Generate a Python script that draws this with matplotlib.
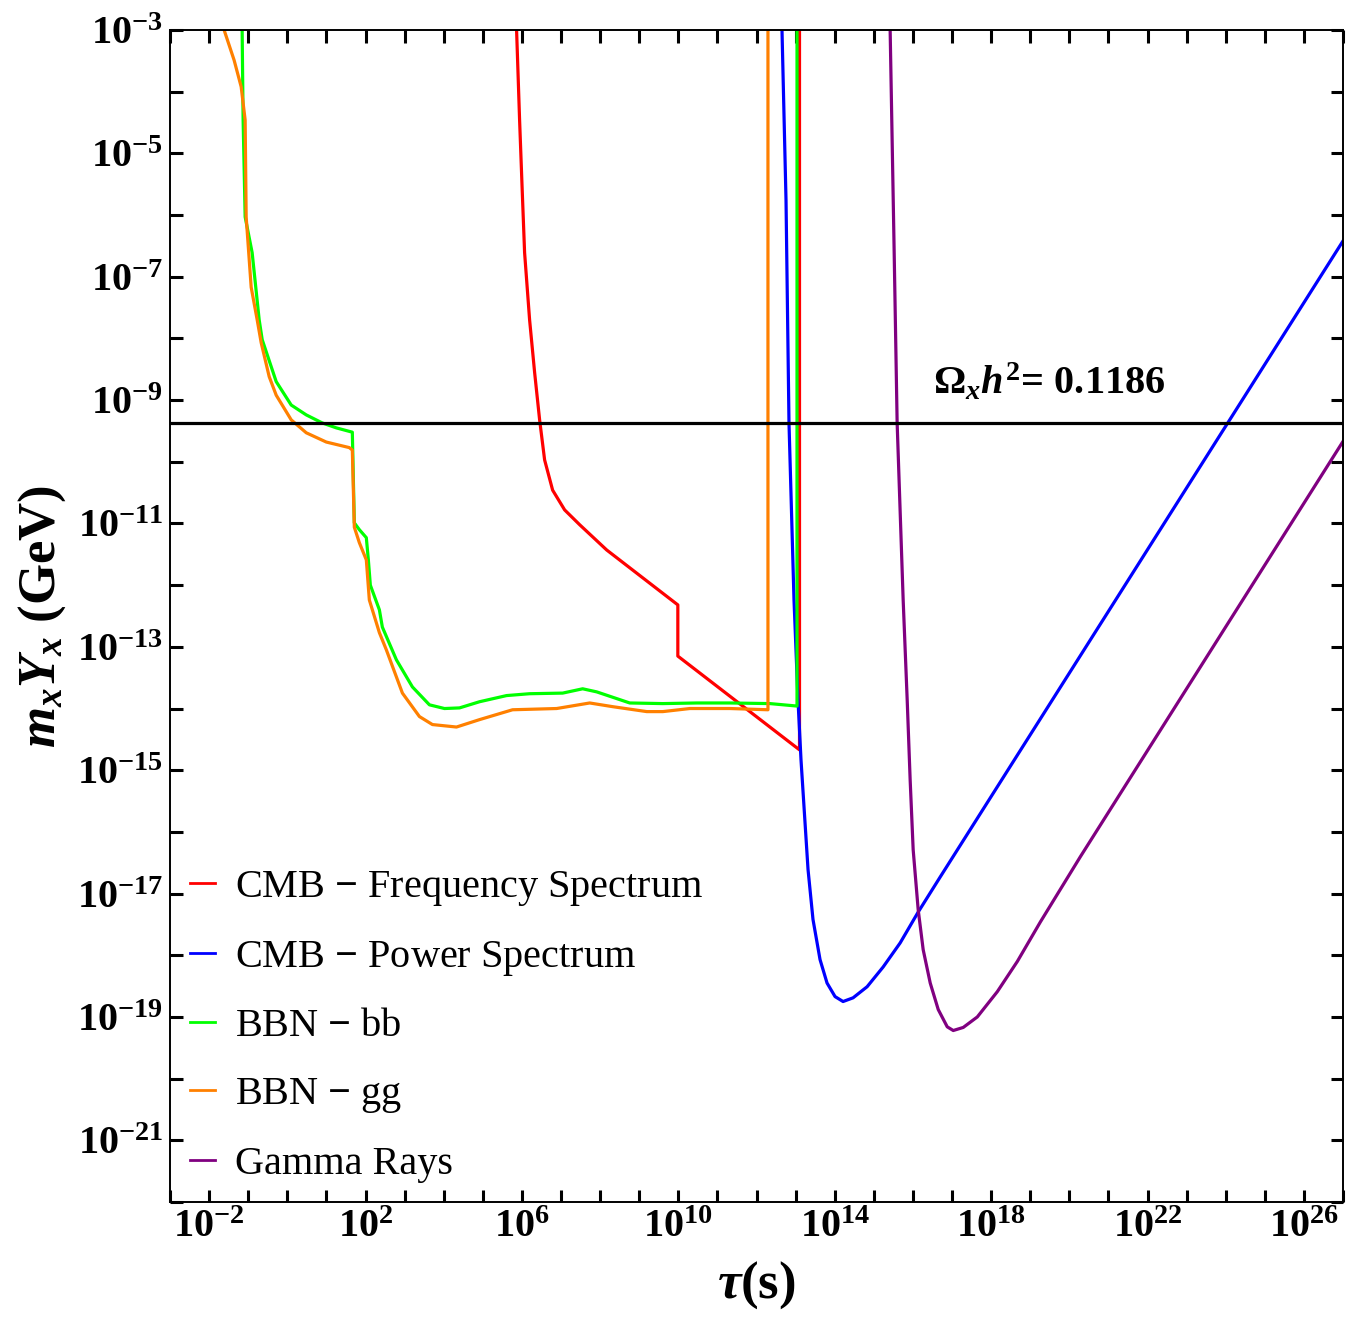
import numpy as np
import matplotlib
matplotlib.use('Agg')
import matplotlib.pyplot as plt

plt.rcParams['font.family'] = 'Liberation Serif'
plt.rcParams['mathtext.fontset'] = 'custom'
plt.rcParams['mathtext.rm'] = 'Liberation Serif:bold'
plt.rcParams['mathtext.it'] = 'Liberation Serif:bold:italic'
plt.rcParams['mathtext.bf'] = 'Liberation Serif:bold'

# curves as (log10 tau, log10 m_x Y_x)
cmb_freq_logtau = [5.864, 5.941, 6.005, 6.069, 6.197, 6.325, 6.453, 6.581, 6.786, 7.093, 7.477,
                   8.169, 9.988, 9.988, 13.10, 13.10]
cmb_freq_logy = [-3.0, -4.46, -5.55, -6.61, -7.70, -8.55, -9.32, -9.97, -10.46, -10.78, -11.02,
                 -11.43, -12.32, -13.15, -14.67, -3.0]

cmb_pow_logtau = [12.652, 12.755, 12.831, 12.959, 13.061, 13.138, 13.236, 13.318, 13.445,
                  13.625, 13.804, 14.009, 14.214, 14.470, 14.829, 15.239, 15.674, 16.135,
                  16.699, 27.02]
cmb_pow_logy = [-3.0, -5.76, -9.37, -12.24, -13.86, -14.83, -15.80, -16.61, -17.42,
                -18.07, -18.45, -18.67, -18.75, -18.69, -18.51, -18.19, -17.80, -17.30,
                -16.73, -6.40]

bbn_bb_logtau = [-1.155, -1.13, -1.078, -0.899, -0.719, -0.642, -0.284, 0.100, 0.485, 0.894,
                 1.253, 1.663, 1.714, 1.842, 2.021, 2.073, 2.124, 2.355, 2.431, 2.790, 3.200,
                 3.635, 4.020, 4.404, 4.916, 5.608, 6.197, 7.042, 7.554, 7.913, 8.758, 9.604,
                 10.475, 11.320, 12.344, 13.036, 13.036]
bbn_bb_logy = [-3.0, -4.46, -6.03, -6.61, -7.70, -8.02, -8.70, -9.08, -9.24, -9.37,
               -9.45, -9.52, -10.99, -11.10, -11.23, -11.59, -12.00, -12.40, -12.68, -13.21,
               -13.65, -13.94, -14.00, -13.99, -13.89, -13.79, -13.76, -13.75, -13.68, -13.73,
               -13.91, -13.92, -13.91, -13.91, -13.92, -13.96, -3.0]

bbn_gg_logtau = [-1.616, -1.36, -1.180, -1.078, -1.052, -0.924, -0.770, -0.668, -0.463, -0.284,
                 0.100, 0.485, 0.997, 1.586, 1.663, 1.714, 1.842, 2.021, 2.098, 2.355, 2.534,
                 2.944, 3.379, 3.712, 4.327, 4.916, 5.761, 6.888, 7.734, 8.323, 9.194, 9.604,
                 10.295, 11.320, 12.293, 12.293]
bbn_gg_logy = [-3.0, -3.49, -3.92, -4.46, -6.03, -7.17, -7.70, -8.07, -8.62, -8.92,
               -9.32, -9.53, -9.68, -9.77, -9.81, -11.06, -11.31, -11.59, -12.24, -12.77, -13.05,
               -13.75, -14.13, -14.26, -14.30, -14.18, -14.02, -14.00, -13.91, -13.97, -14.05, -14.05,
               -14.00, -14.00, -14.02, -3.0]

gamma_logtau = [15.418, 15.52, 15.597, 15.751, 15.854, 15.930, 16.007, 16.135, 16.263, 16.443,
                16.648, 16.878, 17.032, 17.288, 17.647, 18.159, 18.671, 19.260, 20.285, 27.02]
gamma_logy = [-3.0, -6.57, -9.37, -12.24, -13.86, -15.16, -16.29, -17.26, -17.91, -18.45,
              -18.88, -19.16, -19.22, -19.17, -19.00, -18.59, -18.10, -17.46, -16.40, -9.65]

# relic abundance Omega_x h^2 = 0.1186 in units of m_x Y_x
omega_value = 4.3e-10

curves = [
    ('CMB $-$ Frequency Spectrum', cmb_freq_logtau, cmb_freq_logy, (1, 0, 0)),
    ('CMB $-$ Power Spectrum', cmb_pow_logtau, cmb_pow_logy, (0, 0, 1)),
    ('BBN $-$ bb', bbn_bb_logtau, bbn_bb_logy, (0, 1, 0)),
    ('BBN $-$ gg', bbn_gg_logtau, bbn_gg_logy, (1, 0.5, 0)),
    ('Gamma Rays', gamma_logtau, gamma_logy, (0.5, 0, 0.5)),
]

x_label_exps = [-2, 2, 6, 10, 14, 18, 22, 26]
y_label_exps = [-3, -5, -7, -9, -11, -13, -15, -17, -19, -21]

fig = plt.figure(figsize=(13.48, 13.18), dpi=100)
ax = fig.add_axes([170 / 1348, 1 - 1202 / 1318, 1173 / 1348, 1172 / 1318])

for label, lt, ly, col in curves:
    ax.plot(10 ** np.array(lt), 10 ** np.array(ly), color=col, lw=2.3, label=label)

ax.axhline(omega_value, color='black', lw=2.3)
ax.text(10 ** 16.52, 10 ** -8.72, r'$\Omega_xh^2$= 0.1186', fontsize=29,
        fontweight='bold', ha='left', va='center')

ax.set_xscale('log')
ax.set_yscale('log')
ax.set_xlim(1e-3, 1e27)
ax.set_ylim(1e-22, 1e-3)

xt = [10.0 ** k for k in range(-3, 28)]
ax.set_xticks(xt, [r'$10^{%d}$' % k if k in x_label_exps else '' for k in range(-3, 28)])
yt = [10.0 ** k for k in range(-22, -2)]
ax.set_yticks(yt, [r'$10^{%d}$' % k if k in y_label_exps else '' for k in range(-22, -2)])
ax.minorticks_off()
ax.tick_params(which='both', direction='in', length=9, width=2.2, labelsize=29,
               top=True, right=True, pad=5)
for s in ax.spines.values():
    s.set_linewidth(1.4)

ax.set_xlabel(r'$\tau$(s)', fontsize=38, fontweight='bold', labelpad=10)
ax.set_ylabel(r'$m_xY_x$ (GeV)', fontsize=38, fontweight='bold', labelpad=6)

leg = ax.legend(loc='upper left', bbox_to_anchor=(0.0034, 0.2982), frameon=False,
                fontsize=29, handlelength=0.62, handletextpad=0.5, labelspacing=0.76,
                borderaxespad=0)
for h in leg.get_lines():
    h.set_linewidth(2.0)

fig.savefig('out.png', dpi=100)
